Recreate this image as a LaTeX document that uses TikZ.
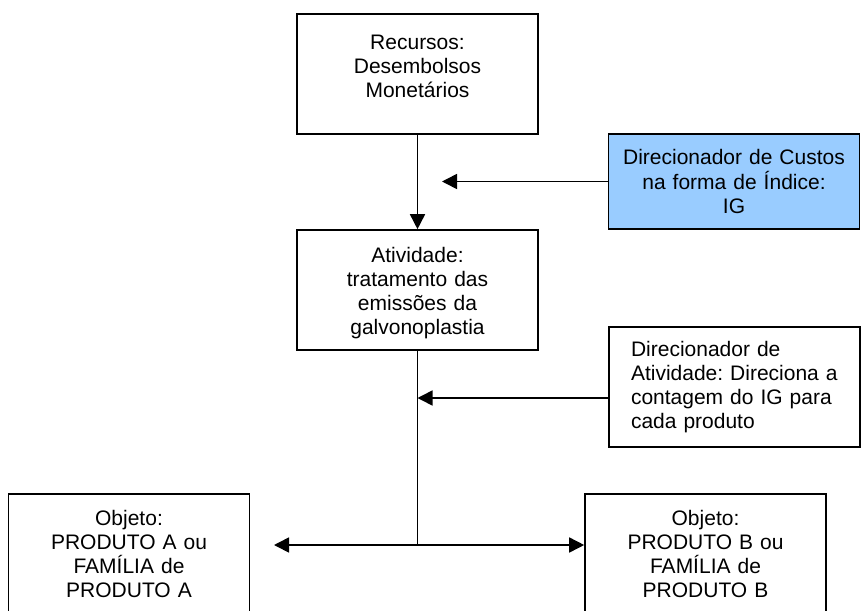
\documentclass[tikz,border=0pt]{standalone}
\usepackage{fontspec}
\setmainfont{Liberation Sans}
\usetikzlibrary{arrows.meta}
\definecolor{driverblue}{RGB}{153,204,255}
\frenchspacing
\begin{document}
\begin{tikzpicture}[x=1pt,y=-1pt,
  box/.style={draw, line width=1.6pt, rectangle, inner sep=0pt,
    text width=241pt, align=center, minimum width=241pt, minimum height=120pt,
    font=\fontsize{21}{24.3}\selectfont},
  flow/.style={line width=1.6pt, -{Triangle[length=15pt,width=15pt]}},
  link/.style={line width=1.6pt}]
\useasboundingbox (0,0) rectangle (861,610);

% resources and the activity they feed
\node[box, text height=35pt, text depth=85pt] (res) at (417.5,74)
  {Recursos:\\Desembolsos\\Monetários};
\node[box, text height=32pt, text depth=88pt] (act) at (417.5,290)
  {Atividade:\\tratamento das\\emissões da\\galvonoplastia};

% cost drivers
\node[box, fill=driverblue, text width=251pt, minimum width=251pt, minimum height=95pt] (cost) at (734,181.5)
  {Direcionador de Custos\\na forma de Índice:\\IG};
\node[box, align=left, text width=207pt, inner xsep=22pt, text height=29pt, text depth=91pt] (actdrv) at (734.5,387)
  {\mbox{Direcionador de}\\\mbox{Atividade: Direciona a}\\\mbox{contagem do IG para}\\\mbox{cada produto}};

% cost objects
\node[box] (prodA) at (129,554)
  {Objeto:\\PRODUTO A ou\\FAMÍLIA de\\PRODUTO A};
\node[box] (prodB) at (705.5,554)
  {Objeto:\\PRODUTO B ou\\FAMÍLIA de\\PRODUTO B};

% connectors
\coordinate (costtip) at (442,181.5);
\coordinate (split) at (417.5,545);
\coordinate (tipA) at (274,545);
\coordinate (drvout) at ([yshift=-11pt]actdrv.west);

\draw[flow] (res.south) -- (act.north);
\draw[flow] (cost.west) -- (costtip);
\draw[link] (act.south) -- (split);
\draw[flow] (drvout) -- (drvout -| act.south);
\draw[flow] (split) -- (tipA);
\draw[flow] (split) -- (split -| prodB.west);
\end{tikzpicture}
\end{document}
